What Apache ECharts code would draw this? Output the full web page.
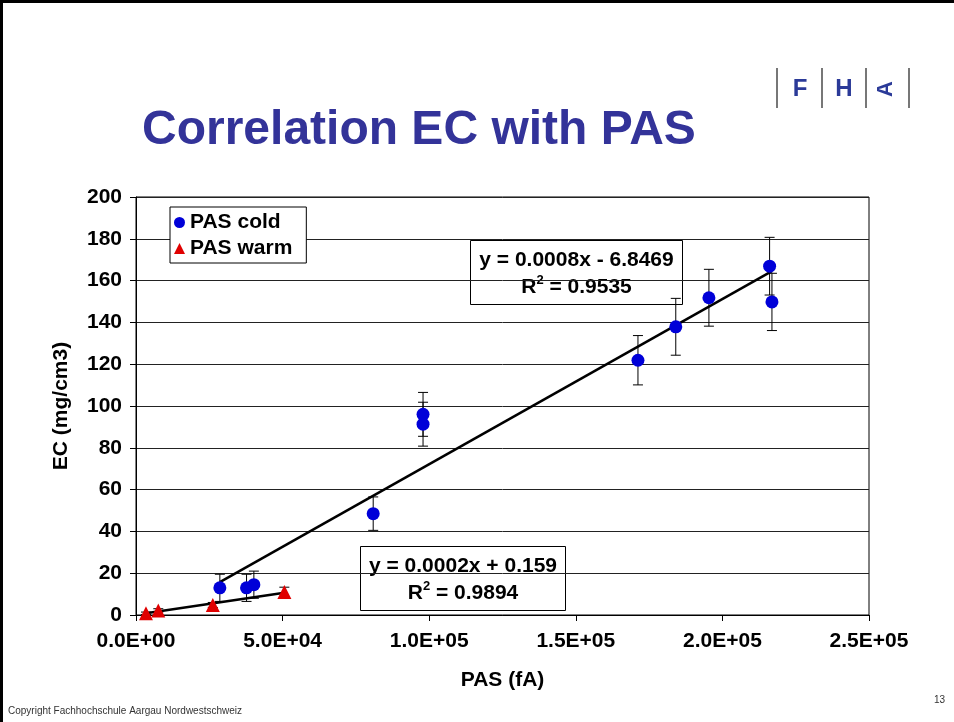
<!DOCTYPE html>
<html>
<head>
<meta charset="utf-8">
<script src="https://cdn.jsdelivr.net/npm/echarts@6/dist/echarts.min.js"></script>
<style>
html, body { margin: 0; padding: 0; background: #fff; }
#chartmain { width: 954px; height: 722px; }
</style>
</head>
<body>
<div id="chartmain"></div>
<script>
// PAS cold: [PAS (fA), EC (mg/cm3)] and error half widths
var coldPas = [28600, 37700, 40200, 80900, 97900, 97900, 171200, 184100, 195400, 216100, 216900];
var coldEc = [13.0, 13.0, 14.5, 48.5, 96.0, 91.3, 121.9, 137.9, 151.8, 166.9, 149.8];
var coldErr = [6.5, 6.5, 6.5, 8.0, 10.5, 10.5, 11.8, 13.6, 13.6, 13.8, 13.7];

// PAS warm
var warmPas = [3400, 7600, 26200, 50600];
var warmEc = [0.8, 2.2, 4.8, 11.0];
var warmErr = [0.6, 0.8, 1.2, 2.3];

var eqCold = ['y = 0.0008x - 6.8469', 'R{s|2} = 0.9535'];
var eqWarm = ['y = 0.0002x + 0.159', 'R{s|2} = 0.9894'];

function sci(v) {
	if (v === 0) return '0.0E+00';
	var e = Math.floor(Math.log10(v));
	var m = v / Math.pow(10, e);
	return m.toFixed(1) + 'E+' + (e < 10 ? '0' : '') + e;
}

function pairs(xs, ys) {
	var out = [];
	for (var i = 0; i < xs.length; i++) out.push([xs[i], ys[i]]);
	return out;
}

// least squares trend line over the data range
function trend(xs, ys) {
	var n = xs.length, sx = 0, sy = 0, sxx = 0, sxy = 0;
	for (var i = 0; i < n; i++) {
		sx += xs[i]; sy += ys[i]; sxx += xs[i] * xs[i]; sxy += xs[i] * ys[i];
	}
	var b = (n * sxy - sx * sy) / (n * sxx - sx * sx);
	var a = (sy - b * sx) / n;
	var lo = Math.min.apply(null, xs), hi = Math.max.apply(null, xs);
	return [[lo, a + b * lo], [hi, a + b * hi]];
}

function errData(xs, ys, es) {
	var out = [];
	for (var i = 0; i < xs.length; i++) out.push([xs[i], ys[i] - es[i], ys[i] + es[i]]);
	return out;
}

function errItem(params, api) {
	var lo = api.coord([api.value(0), api.value(1)]);
	var hi = api.coord([api.value(0), api.value(2)]);
	var w = 5;
	var st = { stroke: '#000', lineWidth: 1 };
	return {
		type: 'group',
		children: [
			{ type: 'line', shape: { x1: lo[0], y1: lo[1], x2: hi[0], y2: hi[1] }, style: st },
			{ type: 'line', shape: { x1: lo[0] - w, y1: lo[1], x2: lo[0] + w, y2: lo[1] }, style: st },
			{ type: 'line', shape: { x1: hi[0] - w, y1: hi[1], x2: hi[0] + w, y2: hi[1] }, style: st }
		]
	};
}

var axisFont = { fontFamily: 'Liberation Sans', fontWeight: 'bold', fontSize: 21, color: '#000' };

function eqBox(x, y, w, lines) {
	return {
		type: 'group', left: x, top: y, z: 100,
		children: [
			{ type: 'rect', shape: { x: 0, y: 0, width: w, height: 64 }, style: { fill: '#fff', stroke: '#000', lineWidth: 1 } },
			{ type: 'text', x: w / 2, y: 6, style: {
				text: lines.join('\n'), align: 'center', lineHeight: 27,
				font: 'bold 21px "Liberation Sans", Arial, sans-serif', fill: '#000',
				rich: { s: { fontSize: 13, fontWeight: 'bold', verticalAlign: 'top', lineHeight: 20, fontFamily: 'Liberation Sans' } }
			} }
		]
	};
}

var option = {
	animation: false,
	backgroundColor: '#fff',
	grid: { left: 136, right: 85, top: 197, bottom: 107, show: true, borderColor: '#000', borderWidth: 1 },
	legend: {
		left: 170, top: 207, orient: 'vertical', itemGap: 5,
		backgroundColor: '#fff', borderColor: '#000', borderWidth: 1, padding: [5, 14, 4, 4],
		itemWidth: 11, itemHeight: 11,
		textStyle: { fontFamily: 'Liberation Sans', fontWeight: 'bold', fontSize: 21, color: '#000' },
		data: [{ name: 'PAS cold', icon: 'circle' }, { name: 'PAS warm', icon: 'triangle' }]
	},
	xAxis: {
		type: 'value', min: 0, max: 250000, interval: 50000,
		name: 'PAS (fA)', nameLocation: 'middle', nameGap: 55,
		nameTextStyle: axisFont,
		axisLine: { lineStyle: { color: '#000', width: 1 } },
		axisTick: { show: true, inside: false, length: 6, lineStyle: { color: '#000' } },
		axisLabel: Object.assign({ formatter: sci, margin: 16 }, axisFont),
		splitLine: { show: false }
	},
	yAxis: {
		type: 'value', min: 0, max: 200, interval: 20,
		name: 'EC (mg/cm3)', nameLocation: 'middle', nameGap: 64, nameRotate: 90,
		nameTextStyle: axisFont,
		axisLine: { show: true, lineStyle: { color: '#000', width: 1 } },
		axisTick: { show: true, inside: false, length: 6, lineStyle: { color: '#000' } },
		axisLabel: Object.assign({ margin: 14 }, axisFont),
		splitLine: { show: true, lineStyle: { color: '#222', width: 1 } }
	},
	series: [
		{ type: 'custom', name: 'errCold', renderItem: errItem, data: errData(coldPas, coldEc, coldErr), z: 2, silent: true },
		{ type: 'custom', name: 'errWarm', renderItem: errItem, data: errData(warmPas, warmEc, warmErr), z: 2, silent: true },
		{ type: 'scatter', name: 'PAS cold', symbol: 'circle', symbolSize: 13, itemStyle: { color: '#0000d8', opacity: 1 }, data: pairs(coldPas, coldEc), z: 4 },
		{ type: 'scatter', name: 'PAS warm', symbol: 'triangle', symbolSize: 14, itemStyle: { color: '#e00000', opacity: 1 }, data: pairs(warmPas, warmEc), z: 4 },
		{ type: 'line', name: 'trendCold', data: trend(coldPas, coldEc), showSymbol: false, lineStyle: { color: '#000', width: 2.5 }, z: 3, silent: true },
		{ type: 'line', name: 'trendWarm', data: trend(warmPas, warmEc), showSymbol: false, lineStyle: { color: '#000', width: 2.5 }, z: 3, silent: true }
	],
	graphic: [
		// slide frame
		{ type: 'line', shape: { x1: 0, y1: 1.5, x2: 954, y2: 1.5 }, style: { stroke: '#000', lineWidth: 3 } },
		{ type: 'line', shape: { x1: 1.5, y1: 0, x2: 1.5, y2: 722 }, style: { stroke: '#000', lineWidth: 3 } },
		{ type: 'text', left: 142, top: 107, style: {
			text: 'Correlation EC with PAS', font: 'bold 48px "Liberation Sans", Arial, sans-serif', fill: '#333399'
		} },
		// logo
		{ type: 'rect', shape: { x: 776, y: 68, width: 2, height: 40 }, style: { fill: '#777' } },
		{ type: 'rect', shape: { x: 821, y: 68, width: 2, height: 40 }, style: { fill: '#777' } },
		{ type: 'rect', shape: { x: 865, y: 68, width: 2, height: 40 }, style: { fill: '#777' } },
		{ type: 'rect', shape: { x: 908, y: 68, width: 2, height: 40 }, style: { fill: '#777' } },
		{ type: 'text', x: 800, y: 89, style: { text: 'F', font: 'bold 24px "Liberation Sans", Arial', fill: '#2b3a98', align: 'center', verticalAlign: 'middle' } },
		{ type: 'text', x: 844, y: 89, style: { text: 'H', font: 'bold 24px "Liberation Sans", Arial', fill: '#2b3a98', align: 'center', verticalAlign: 'middle' } },
		{ type: 'text', x: 886, y: 89, rotation: Math.PI / 2, style: { text: 'A', font: 'bold 22px "Liberation Sans", Arial', fill: '#2b3a98', align: 'center', verticalAlign: 'middle' } },
		// footer
		{ type: 'text', x: 8, y: 706, style: { text: 'Copyright Fachhochschule Aargau Nordwestschweiz', font: '10px "Liberation Sans", Arial', fill: '#333' } },
		{ type: 'text', x: 934, y: 695, style: { text: '13', font: '10px "Liberation Sans", Arial', fill: '#333' } },
		eqBox(470, 240, 212, eqCold),
		eqBox(360, 546, 205, eqWarm)
	]
};

var myChart = echarts.init(document.getElementById('chartmain'));
myChart.setOption(option);
</script>
</body>
</html>
